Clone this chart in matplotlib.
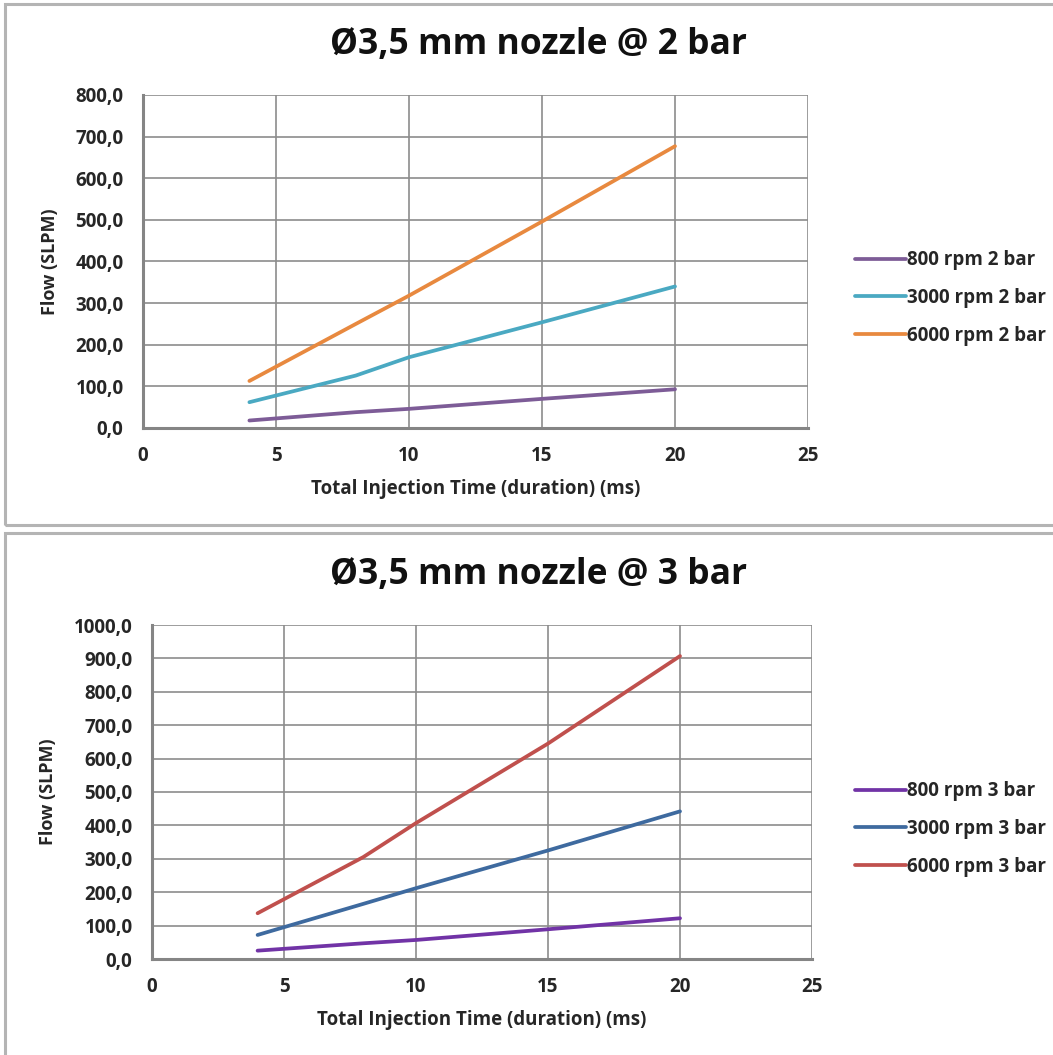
import matplotlib
matplotlib.use("Agg")
import matplotlib.pyplot as plt
from matplotlib.patches import Rectangle
from matplotlib.ticker import FuncFormatter

plt.rcParams['font.family'] = ['Open Sans', 'DejaVu Sans']

# Injection time (ms)
inj_time = [4, 8, 10, 15, 20]

# 2 bar (SLPM)
flow_800_2bar = [18, 38, 46, 70, 93]
flow_3000_2bar = [62, 126, 170, 254, 340]
flow_6000_2bar = [113, 250, 318, 496, 677]

# 3 bar (SLPM)
flow_800_3bar = [25, 47, 57, 89, 122]
flow_3000_3bar = [72, 165, 212, 325, 442]
flow_6000_3bar = [137, 305, 407, 645, 907]

labels_2bar = ["800 rpm 2 bar", "3000 rpm 2 bar", "6000 rpm 2 bar"]
labels_3bar = ["800 rpm 3 bar", "3000 rpm 3 bar", "6000 rpm 3 bar"]
colors_2bar = ["#7d5c97", "#4aa9c2", "#e8893f"]
colors_3bar = ["#7133a6", "#3e6a9f", "#c0504d"]

W, H = 1053, 1055
fig = plt.figure(figsize=(W / 100, H / 100), dpi=100)


def px_rect(x0, y0, x1, y1):
    """pixel box (top-left origin) -> figure fraction [l, b, w, h]"""
    return [x0 / W, 1 - y1 / H, (x1 - x0) / W, (y1 - y0) / H]


# chart area frames
for (x0, y0, x1, y1) in [(5, 4, 1070, 525), (5, 533, 1070, 1070)]:
    l, b, w, h = px_rect(x0, y0, x1, y1)
    fig.patches.append(Rectangle((l, b), w, h, transform=fig.transFigure,
                                 fill=False, edgecolor="#b4b4b4", linewidth=2.2))

TXT = "#262626"
FS = 13.5


def draw_panel(rect, title, title_y, series, labels, colors, ymax, leg_y):
    ax = fig.add_axes(px_rect(*rect))
    for vals, lab, col in zip(series, labels, colors):
        ax.plot(inj_time, vals, color=col, linewidth=2.7, label=lab,
                solid_capstyle="round")
    ax.set_xlim(0, 25)
    ax.set_ylim(0, ymax)
    ax.set_xticks(range(0, 26, 5))
    ax.set_yticks(range(0, ymax + 1, 100))
    ax.yaxis.set_major_formatter(FuncFormatter(lambda v, p: f"{v:.1f}".replace(".", ",")))
    ax.grid(True, color="#8c8c8c", linewidth=1.2)
    ax.set_axisbelow(True)
    for s in ["top", "right"]:
        ax.spines[s].set_visible(False)
    for s in ["left", "bottom"]:
        ax.spines[s].set_color("#858585")
        ax.spines[s].set_linewidth(2.2)
    ax.tick_params(axis="y", length=0, pad=14, labelsize=FS, labelcolor=TXT)
    ax.tick_params(axis="x", length=0, pad=13, labelsize=FS, labelcolor=TXT)
    for t in ax.get_xticklabels() + ax.get_yticklabels():
        t.set_fontweight("bold")
    ax.set_xlabel("Total Injection Time (duration) (ms)", fontsize=FS,
                  fontweight="bold", color=TXT, labelpad=9)
    ax.set_ylabel("Flow (SLPM)", fontsize=13, fontweight="bold", color=TXT,
                  labelpad=12)
    fig.text(538 / W, 1 - title_y / H, title, ha="center", va="center",
             fontsize=25.5, fontweight="bold", color="#111111")
    leg = ax.legend(loc="center left", bbox_to_anchor=(838 / W, 1 - leg_y / H),
                    bbox_transform=fig.transFigure, frameon=False,
                    handlelength=2.7, handletextpad=0.1, labelspacing=0.95,
                    prop={"size": FS, "weight": "bold"})
    for t in leg.get_texts():
        t.set_color(TXT)
    return ax


draw_panel((143, 95, 808, 428), "Ø3,5 mm nozzle @ 2 bar", 45,
           [flow_800_2bar, flow_3000_2bar, flow_6000_2bar],
           labels_2bar, colors_2bar, 800, 298)
draw_panel((152, 625, 812, 959), "Ø3,5 mm nozzle @ 3 bar", 575,
           [flow_800_3bar, flow_3000_3bar, flow_6000_3bar],
           labels_3bar, colors_3bar, 1000, 829)

fig.savefig("out.png", dpi=100)
